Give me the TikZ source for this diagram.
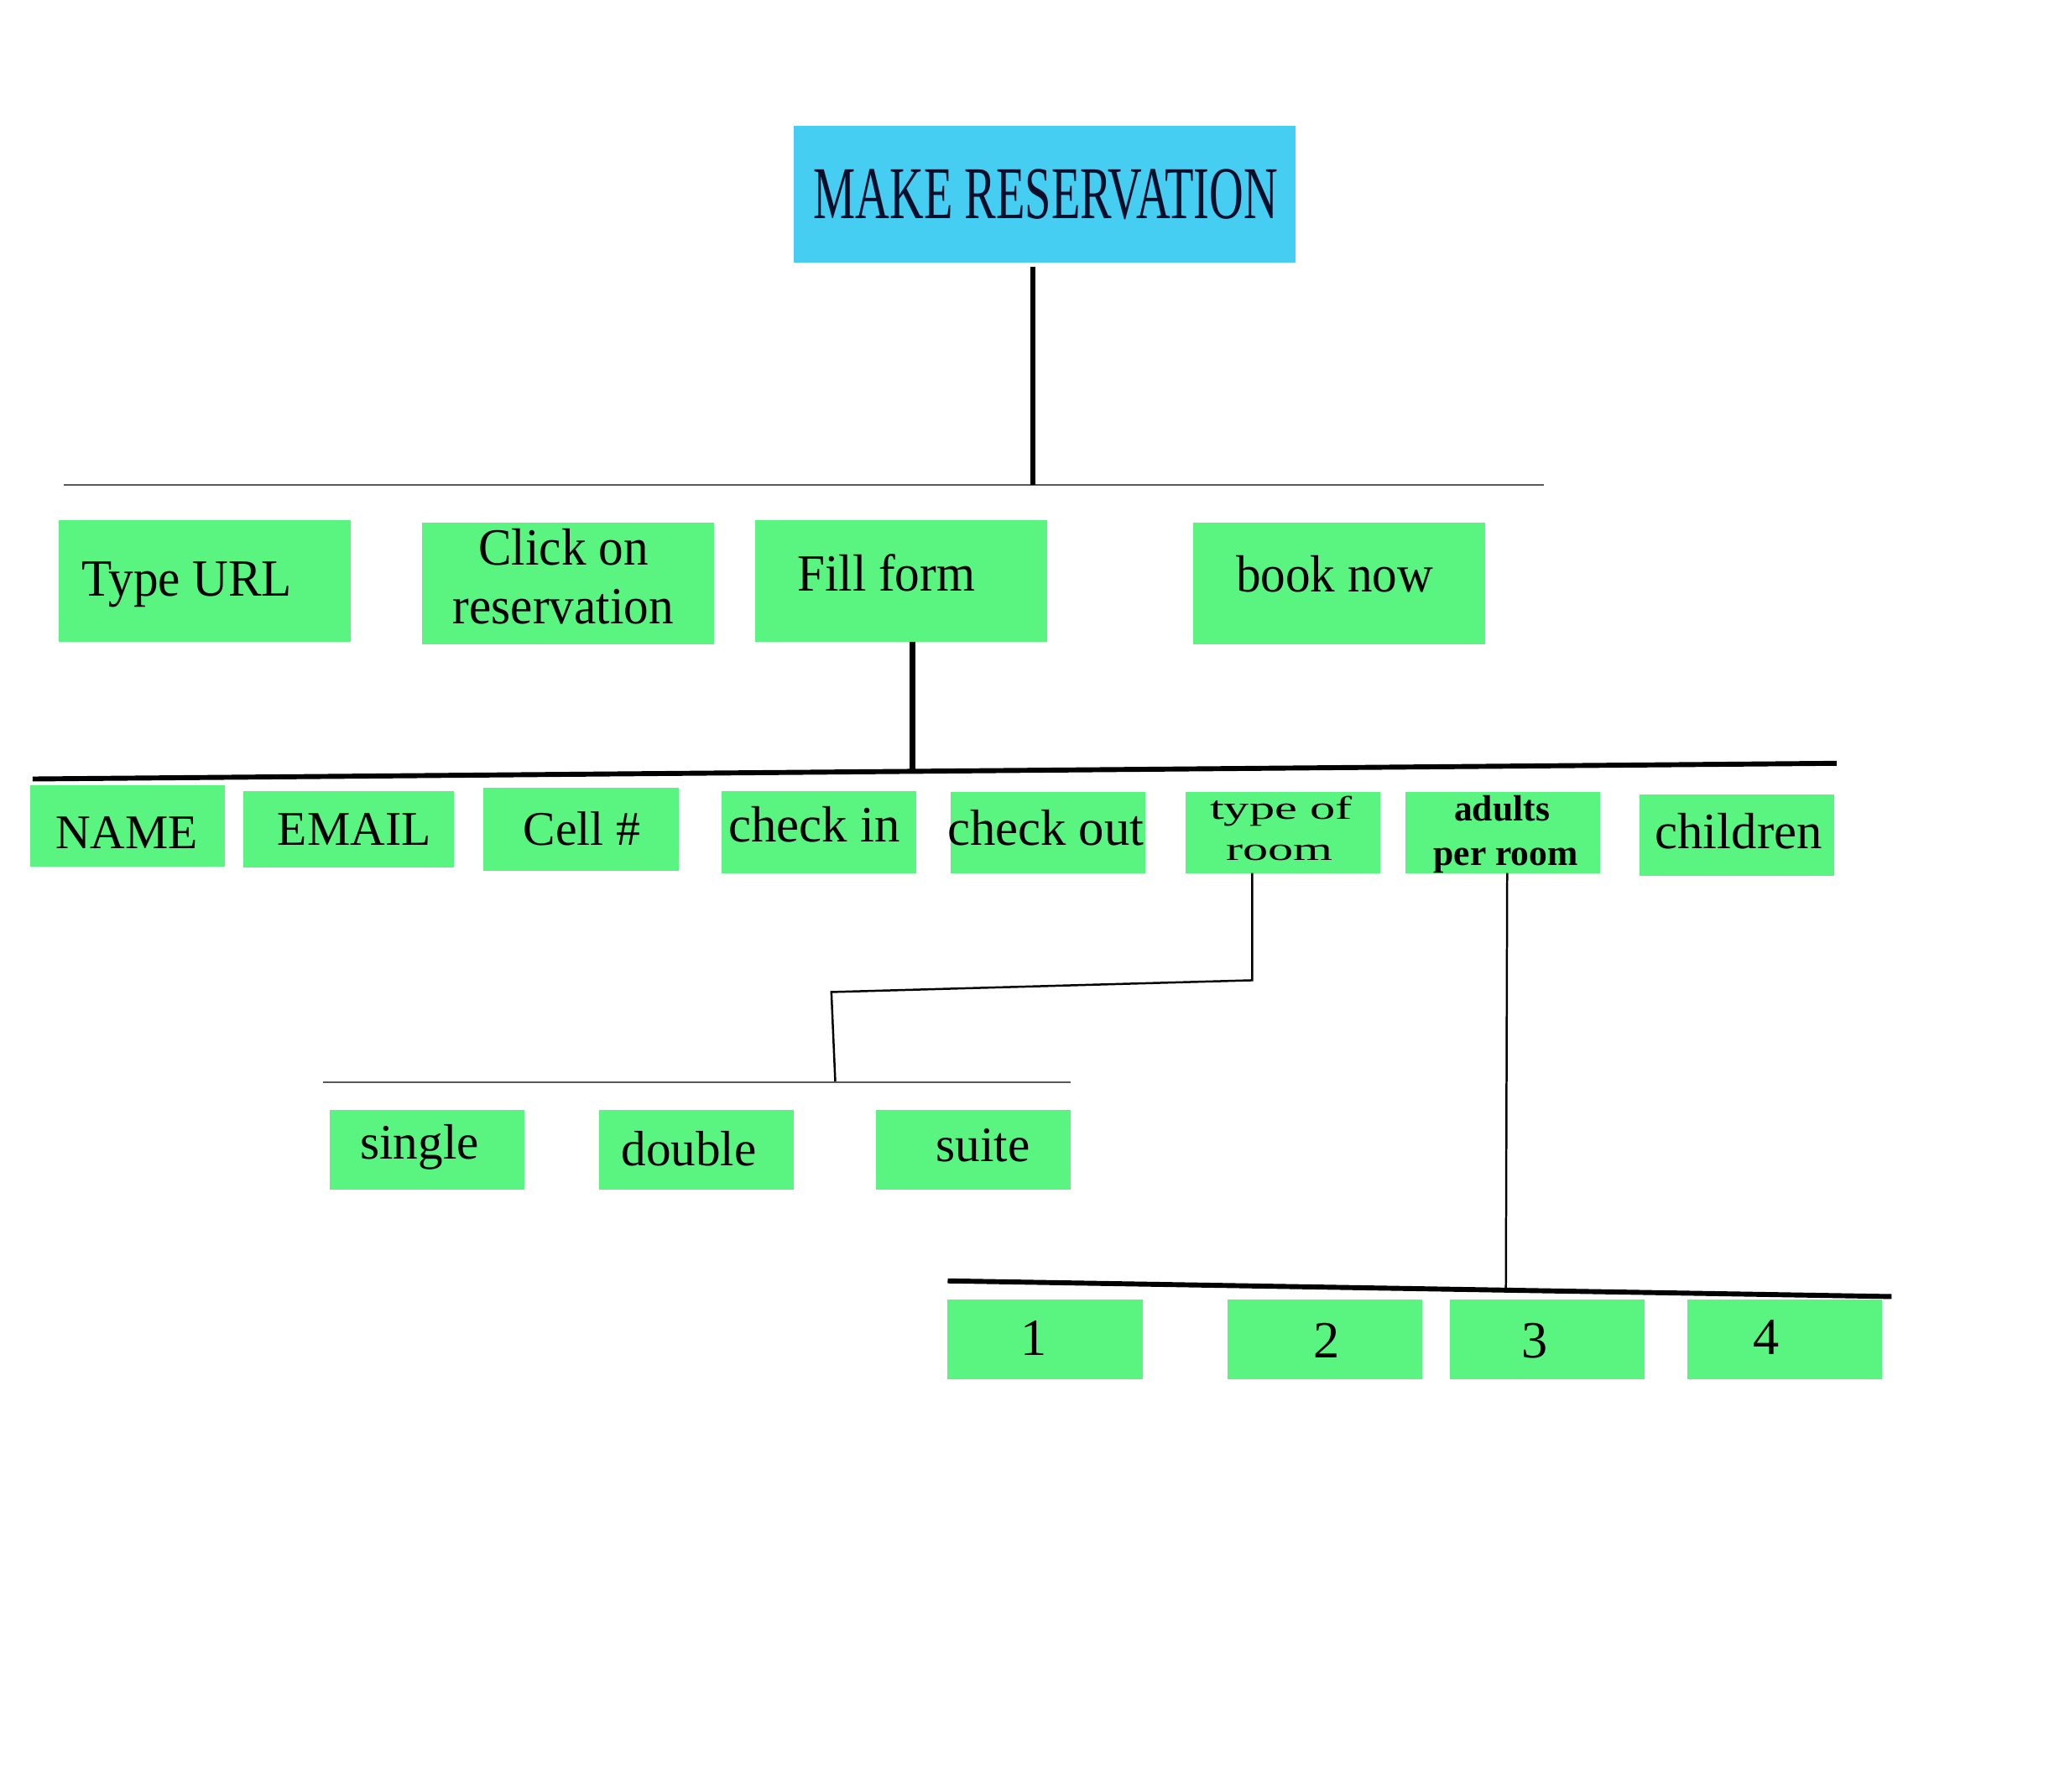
\documentclass[tikz,border=0pt]{standalone}
\usepackage{fontspec}
\setmainfont{Liberation Serif}
\usepackage{graphicx}
\definecolor{boxgreen}{RGB}{90,245,128}
\definecolor{titlecyan}{RGB}{69,205,242}
\definecolor{navy}{RGB}{10,14,42}
\tikzset{
  gbox/.style={fill=boxgreen, inner sep=0pt, outer sep=0pt, anchor=north west},
  tbox/.style={fill=titlecyan, inner sep=0pt, outer sep=0pt, anchor=north west},
  lbl/.style={inner sep=0pt, anchor=base},
  rowone/.style={lbl, font=\fontsize{40}{44}\selectfont},
  rowtwo/.style={lbl, font=\fontsize{37}{40}\selectfont},
  rowtwol/.style={lbl, font=\fontsize{39}{42}\selectfont},
  rowthree/.style={lbl, font=\fontsize{38}{42}\selectfont},
  numlbl/.style={lbl, font=\fontsize{40}{44}\selectfont},
  widelbl/.style={lbl, font=\fontsize{25}{28}\selectfont},
  boldlbl/.style={lbl, font=\bfseries\fontsize{28}{32}\selectfont},
  heavy/.style={line width=3.8pt, black},
  heavier/.style={line width=5pt, black},
  thinbar/.style={line width=1.2pt, black!65},
  link/.style={line width=1.6pt, black},
}
\newcommand{\sqz}[1]{\scalebox{0.95}[1]{#1}}
\newcommand{\wide}[1]{\scalebox{1.55}[1]{#1}}
\begin{document}
\begin{tikzpicture}[x=1pt,y=-1pt]
\useasboundingbox (0,0) rectangle (1567.5,1371);
\fill[white] (0,0) rectangle (1567.5,1371);

% title
\node[tbox, minimum width=384pt, minimum height=105pt] (title) at (607,96) {};
\node[lbl] (titleT) at (800,167) {\color{navy}\scalebox{0.635}[1]{\fontsize{57}{60}\selectfont MAKE RESERVATION}};

% first level boxes
\node[gbox, minimum width=223pt, minimum height=93pt] (typeurl) at (45,398) {};
\node[gbox, minimum width=223pt, minimum height=93pt] (click) at (323,400) {};
\node[gbox, minimum width=223pt, minimum height=93pt] (fill) at (578,398) {};
\node[gbox, minimum width=223pt, minimum height=93pt] (book) at (913,400) {};

\node[rowone] (typeurlT) at (143,456) {\sqz{Type URL}};
\node[rowone] (clickT1) at (431,432) {\sqz{Click on}};
\node[rowone] (clickT2) at (431,477) {\sqz{reservation}};
\node[rowone] (fillT) at (678,452) {\sqz{Fill form}};
\node[rowone] (bookT) at (1021,453) {\sqz{book now}};

% second level boxes
\node[gbox, minimum width=149pt, minimum height=62pt] (name) at (23,601) {};
\node[gbox, minimum width=161pt, minimum height=59pt] (email) at (186,605) {};
\node[gbox, minimum width=149pt, minimum height=63pt] (cell) at (370,603) {};
\node[gbox, minimum width=149pt, minimum height=63pt] (checkin) at (552,605) {};
\node[gbox, minimum width=149pt, minimum height=62pt] (checkout) at (727,606) {};
\node[gbox, minimum width=149pt, minimum height=62pt] (type) at (907,606) {};
\node[gbox, minimum width=149pt, minimum height=62pt] (adults) at (1075,606) {};
\node[gbox, minimum width=149pt, minimum height=62pt] (children) at (1254,608) {};

\node[rowtwo] (nameT) at (97,649) {NAME};
\node[rowtwo] (emailT) at (271,647) {EMAIL};
\node[rowtwo] (cellT) at (445,647) {Cell \#};
\node[rowtwol] (checkinT) at (623,644) {check in};
\node[rowtwol] (checkoutT) at (800,647) {check out};
\node[widelbl] (typeT1) at (980,627) {\wide{type of}};
\node[widelbl] (typeT2) at (979,658) {\wide{room}};
\node[boldlbl] (adultsT1) at (1149,628) {adults};
\node[boldlbl] (adultsT2) at (1152,662) {per room};
\node[rowtwol] (childrenT) at (1330,649) {children};

% room types
\node[gbox, minimum width=149pt, minimum height=61pt] (single) at (252,849) {};
\node[gbox, minimum width=149pt, minimum height=61pt] (double) at (458,849) {};
\node[gbox, minimum width=149pt, minimum height=61pt] (suite) at (670,849) {};
\node[rowthree] (singleT) at (321,887) {single};
\node[rowthree] (doubleT) at (527,892) {double};
\node[rowthree] (suiteT) at (752,889) {suite};

% adults numbers
\node[gbox, minimum width=149pt, minimum height=61pt] (n1) at (725,994) {};
\node[gbox, minimum width=149pt, minimum height=61pt] (n2) at (939,994) {};
\node[gbox, minimum width=149pt, minimum height=61pt] (n3) at (1109,994) {};
\node[gbox, minimum width=149pt, minimum height=61pt] (n4) at (1291,994) {};
\node[numlbl] (n1T) at (791,1037) {1};
\node[numlbl] (n2T) at (1015,1039) {2};
\node[numlbl] (n3T) at (1174,1039) {3};
\node[numlbl] (n4T) at (1351,1036) {4};

% connector coordinates
\coordinate (busA) at (790,371);
\coordinate (barAL) at (49,371);
\coordinate (barAR) at (1181,371);
\coordinate (busB) at (698,590);
\coordinate (barBL) at (25,596);
\coordinate (barBR) at (1405,584);
\coordinate (typeK1) at (958,750);
\coordinate (typeK2) at (636,759);
\coordinate (busC) at (639,828);
\coordinate (barCL) at (247,828);
\coordinate (barCR) at (819,828);
\coordinate (busD) at (1152,988);
\coordinate (barDL) at (725,980);
\coordinate (barDR) at (1447,992);

% connectors
\draw[thinbar] (barAL) -- (barAR);
\draw[heavy] ([yshift=-3pt]title.south -| busA) -- (busA);
\draw[heavier] (fill.south -| busB) -- (busB);
\draw[heavy] (barBL) -- (barBR);
\draw[link] (type.south -| typeK1) -- (typeK1) -- (typeK2) -- (busC);
\draw[thinbar] (barCL) -- (barCR);
\draw[link] (adults.south -| 1153,0) -- (busD);
\draw[heavy] (barDL) -- (barDR);
\end{tikzpicture}
\end{document}
